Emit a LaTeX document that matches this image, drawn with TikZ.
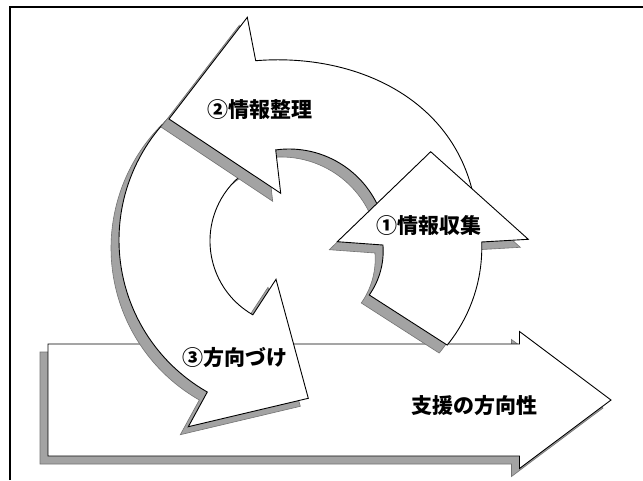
\documentclass[tikz,border=0pt]{standalone}
\usepackage{fontspec}
\newfontfamily\jp{Noto Sans CJK JP}
\usetikzlibrary{calc}
\tikzset{
  body/.style={draw=black, line width=0.9pt, fill=white, line join=miter},
  shadowfill/.style={fill=black!36, draw=black!55, line width=0.6pt},
  lbl/.style={font=\jp\bfseries\fontsize{21}{24}\selectfont, inner sep=0pt},
  bigarrow/.pic={\path[pic actions] (48,344) -- (519.5,344) -- (519.5,331.5) -- (611,400) -- (519.5,468.5) -- (519.5,456) -- (48,456) -- cycle;},
  arrowthree/.pic={\path[pic actions] ($(294,240)+(225:175)$) arc[start angle=225, end angle=119.7, radius=175] -- (188.3,426.7) -- (308.3,398.3) -- (276,279.3) -- ($(295,241)+(119.75:85)$) arc[start angle=119.75, end angle=240, radius=85] -- cycle;},
  arrowtwo/.pic={\path[pic actions] (247.3,17.3) -- (255.7,60.7) .. controls (350,53) and (446,94) .. (471.3,186.7) -- (476,205) -- ($(289,247)+(-15:98)$) arc[start angle=-15, end angle=-97.8, radius=98] -- (280.7,193.3) -- (169,119) -- cycle;},
  arrowone/.pic={\path[pic actions] (337.3,241.7) -- (430.7,151.7) -- (528.3,239.3) -- ($(326.6,247.4)+(-2:155.2)$) arc[start angle=-2, end angle=39, radius=155.2] -- ($(306.8,251)+(35.15:76.4)$) arc[start angle=35.15, end angle=-4.5, radius=76.4] -- cycle;}
}
\begin{document}
\begin{tikzpicture}[x=1pt,y=-1pt]
\useasboundingbox[fill=white] (0,0) rectangle (643,480);
% frame
\draw[line width=2.6pt] (10,480) -- (10,7) -- (643,7);
% big arrow
\pic[shadowfill, shift={(-8,8)}] {bigarrow};
\pic[body] {bigarrow};
% arrow 3
\pic[shadowfill, shift={(-8,8)}] {arrowthree};
\pic[body] {arrowthree};
% arrow 2
\pic[shadowfill, shift={(-8,8)}] {arrowtwo};
\pic[body] {arrowtwo};
% arrow 1
\pic[shadowfill, shift={(-8,8)}] {arrowone};
\pic[body] {arrowone};
% labels
\node[lbl] (l2) at (260,110) {②情報整理};
\node[lbl] (l1) at (429,225.5) {①情報収集};
\node[lbl] (l3) at (235,358) {③方向づけ};
\node[lbl] (l4) at (474.5,406) {支援の方向性};
\end{tikzpicture}
\end{document}
